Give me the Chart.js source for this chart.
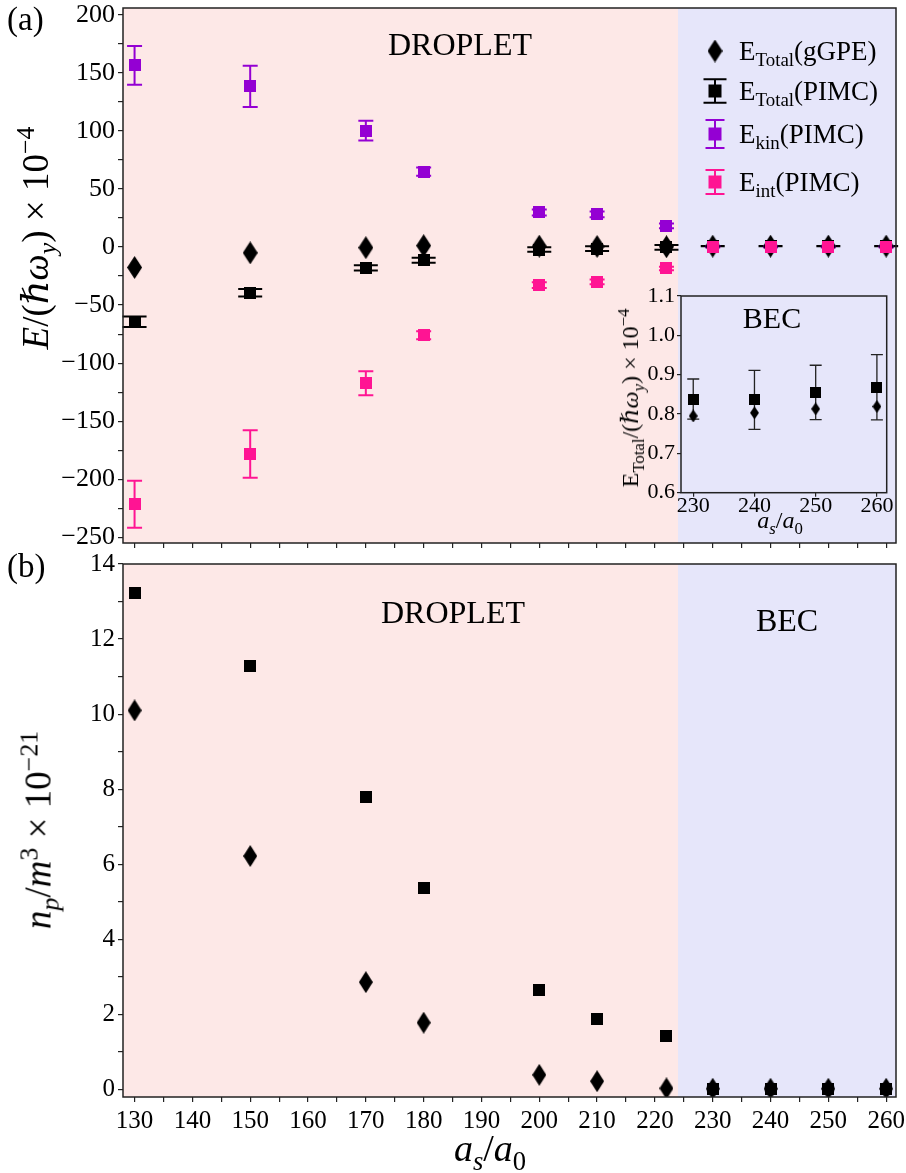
<!DOCTYPE html>
<html>
<head>
<meta charset="utf-8">
<script src="https://cdn.jsdelivr.net/npm/chart.js@4.4.1/dist/chart.umd.min.js"></script>
<style>
  body { margin: 0; background: #fff; }
  #fig { position: relative; width: 906px; height: 1173px; font-family: "Liberation Serif", "DejaVu Serif", serif; color: #000; }
  canvas { position: absolute; }
  .txt { position: absolute; white-space: nowrap; line-height: 1; z-index: 5; }
  .c { transform: translate(-50%, -50%); }
  .rot { transform: translate(-50%, -50%) rotate(-90deg); }
  .lg { transform: translateY(-50%); font-size: 27px; }
  sub, sup { font-size: 70%; line-height: 0; }
  i { font-style: italic; }
</style>
</head>
<body>
<div id="fig">
  <canvas id="panelA" width="906" height="555" style="left:0;top:0"></canvas>
  <canvas id="panelB" width="906" height="633" style="left:0;top:540px"></canvas>
  <canvas id="inset" width="300" height="265" style="left:600px;top:280px;z-index:2"></canvas>

  <div class="txt" style="left:7px;top:3px;font-size:33px">(a)</div>
  <div class="txt" style="left:7px;top:550px;font-size:33px">(b)</div>

  <div class="txt c" style="left:460px;top:44px;font-size:32px">DROPLET</div>
  <div class="txt c" style="left:453px;top:612px;font-size:32px">DROPLET</div>
  <div class="txt c" style="left:787px;top:620px;font-size:32px">BEC</div>
  <div class="txt c" style="left:772px;top:318px;font-size:30px">BEC</div>

  <div class="txt lg" style="left:739px;top:51px">E<sub>Total</sub>(gGPE)</div>
  <div class="txt lg" style="left:739px;top:91px">E<sub>Total</sub>(PIMC)</div>
  <div class="txt lg" style="left:739px;top:134px">E<sub>kin</sub>(PIMC)</div>
  <div class="txt lg" style="left:739px;top:182px">E<sub>int</sub>(PIMC)</div>

  <div class="txt rot" style="left:35px;top:238px;font-size:37px"><i>E</i>/(<i>ℏω</i><sub><i>y</i></sub>) × 10<sup>−4</sup></div>
  <div class="txt rot" style="left:38px;top:830px;font-size:37px"><i>n</i><sub><i>p</i></sub>/<i>m</i><sup>3</sup> × 10<sup>−21</sup></div>
  <div class="txt c" style="left:490px;top:1148px;font-size:38px"><i>a</i><sub><i>s</i></sub>/<i>a</i><sub>0</sub></div>
  <div class="txt rot" style="left:630px;top:398px;font-size:24px">E<sub>Total</sub>/(<i>ℏω</i><sub><i>y</i></sub>) × 10<sup>−4</sup></div>
  <div class="txt c" style="left:780px;top:520px;font-size:24px"><i>a</i><sub><i>s</i></sub>/<i>a</i><sub>0</sub></div>
</div>

<script>
// scattering length a_s / a_0 of each run
const scatLen = [130, 150, 170, 180, 200, 210, 222, 230, 240, 250, 260];
const phaseBoundary = 224;
const becStart = 7;

// energies, units of hbar*omega_y x 1e-4
const eTotalGGPE = [-17.6, -5.0, -0.5, 1.2, 0.8, 0.5, 0.3, 0.795, 0.803, 0.813, 0.819];
const eTotalPIMC = [-64.4, -39.4, -17.9, -11.3, -2.1, -1.3, -0.3, 0.838, 0.836, 0.855, 0.868];
const eTotalPIMCErr = [4.5, 3.3, 2.2, 2.2, 2.0, 2.0, 2.0, 0.051, 0.075, 0.069, 0.083];
const eKinPIMC = [156.6, 138.5, 100.4, 65.0, 29.8, 28.2, 18.3, 0.4, 0.4, 0.4, 0.4];
const eKinPIMCErr = [16.7, 17.8, 8.5, 3.5, 2.5, 2.5, 2.0, 0.5, 0.5, 0.5, 0.5];
const eIntPIMC = [-221.6, -178.3, -117.3, -76.0, -32.8, -30.0, -18.4, 0.4, 0.4, 0.4, 0.4];
const eIntPIMCErr = [20.3, 20.4, 10.3, 3.5, 2.5, 2.0, 1.5, 0.5, 0.5, 0.5, 0.5];

// peak density, n_p / m^3 x 1e-21
const densGGPE = [10.1, 6.22, 2.86, 1.78, 0.39, 0.22, 0.03, 0.02, 0.02, 0.02, 0.02];
const densPIMC = [13.23, 11.27, 7.8, 5.38, 2.65, 1.89, 1.42, 0.02, 0.02, 0.02, 0.02];

// tick values
const xMajor = [130, 140, 150, 160, 170, 180, 190, 200, 210, 220, 230, 240, 250, 260];
const xMinor = [135, 145, 155, 165, 175, 185, 195, 205, 215, 225, 235, 245, 255];
const eMajor = [-250, -200, -150, -100, -50, 0, 50, 100, 150, 200];
const eMinor = [-225, -175, -125, -75, -25, 25, 75, 125, 175];
const nMajor = [0, 2, 4, 6, 8, 10, 12, 14];
const nMinor = [1, 3, 5, 7, 9, 11, 13];
const insetXTicks = [230, 240, 250, 260];
const insetYTicks = [0.6, 0.7, 0.8, 0.9, 1.0, 1.1];

const DROPLET_BG = '#fde8e7';
const BEC_BG = '#e6e6fa';
const VIOLET = '#9400d3';
const PINK = '#ff1493';

Chart.defaults.font.family = '"Liberation Serif", "DejaVu Serif", serif';
Chart.defaults.font.size = 25;
Chart.defaults.color = '#000';
Chart.defaults.animation = false;

const minus = v => (v < 0 ? '\u2212' + Math.abs(v) : String(v));

function pts(ys, from = 0) {
    return scatLen.slice(from).map((x, i) => ({ x, y: ys[from + i] }));
}

function diamond(w, h, color) {
    const c = document.createElement('canvas');
    c.width = w; c.height = h;
    const g = c.getContext('2d');
    g.fillStyle = color;
    g.beginPath();
    g.moveTo(w / 2, 0); g.lineTo(w, h / 2); g.lineTo(w / 2, h); g.lineTo(0, h / 2);
    g.closePath();
    g.fill();
    return c;
}

function square(s, color) {
    const c = document.createElement('canvas');
    c.width = s; c.height = s;
    const g = c.getContext('2d');
    g.fillStyle = color;
    g.fillRect(0, 0, s, s);
    return c;
}

function setTicks(values) {
    return s => { s.ticks = values.slice().sort((a, b) => a - b).map(value => ({ value })); };
}

// fixed axis thickness; label overhang must not move the plot area
function fixSize(prop, size) {
    return s => {
        s[prop] = size;
        s.paddingTop = s.paddingBottom = s.paddingLeft = s.paddingRight = 0;
    };
}

function tickGrid(len) {
    return { drawOnChartArea: false, tickLength: len, color: '#222', lineWidth: 1.2 };
}

// vertical error bars with caps, drawn under the markers
const errorBars = {
    id: 'errorBars',
    beforeDatasetsDraw(chart) {
        const { ctx, scales: { x, y } } = chart;
        chart.data.datasets.forEach(ds => {
            if (!ds.errors) return;
            ctx.save();
            ctx.strokeStyle = ds.errColor;
            ctx.lineWidth = ds.errWidth;
            const c = ds.capWidth / 2;
            ds.data.forEach((p, i) => {
                const px = x.getPixelForValue(p.x);
                const hi = y.getPixelForValue(p.y + ds.errors[i]);
                const lo = y.getPixelForValue(p.y - ds.errors[i]);
                ctx.beginPath();
                ctx.moveTo(px, hi); ctx.lineTo(px, lo);
                ctx.moveTo(px - c, hi); ctx.lineTo(px + c, hi);
                ctx.moveTo(px - c, lo); ctx.lineTo(px + c, lo);
                ctx.stroke();
            });
            ctx.restore();
        });
    }
};

// droplet / BEC shading and the box around the plot area
const panelDeco = {
    id: 'panelDeco',
    beforeDraw(chart, args, opts) {
        if (!opts.shade) return;
        const { ctx, chartArea: a, scales: { x } } = chart;
        const xb = x.getPixelForValue(phaseBoundary);
        ctx.save();
        ctx.fillStyle = DROPLET_BG;
        ctx.fillRect(a.left, a.top, xb - a.left, a.bottom - a.top);
        ctx.fillStyle = BEC_BG;
        ctx.fillRect(xb, a.top, a.right - xb, a.bottom - a.top);
        ctx.restore();
    },
    afterDraw(chart, args, opts) {
        const { ctx, chartArea: a } = chart;
        ctx.save();
        ctx.strokeStyle = '#222';
        ctx.lineWidth = opts.frame || 1.5;
        ctx.strokeRect(a.left, a.top, a.right - a.left, a.bottom - a.top);
        ctx.restore();
    }
};

// legend symbols of panel (a); the labels are html next to them
const legendRows = [
    { y: 51, kind: 'diamond', color: '#000' },
    { y: 91, kind: 'err', color: '#000', half: 11.7, cap: 23 },
    { y: 134, kind: 'err', color: VIOLET, half: 14, cap: 19 },
    { y: 182, kind: 'err', color: PINK, half: 12, cap: 19 }
];
const legendX = 715;

const legendMarks = {
    id: 'legendMarks',
    afterDraw(chart) {
        const ctx = chart.ctx;
        ctx.save();
        legendRows.forEach(r => {
            if (r.kind === 'diamond') {
                ctx.drawImage(diamond(15, 23, r.color), legendX - 7.5, r.y - 11.5);
                return;
            }
            ctx.strokeStyle = r.color;
            ctx.lineWidth = 2;
            ctx.beginPath();
            ctx.moveTo(legendX, r.y - r.half); ctx.lineTo(legendX, r.y + r.half);
            ctx.moveTo(legendX - r.cap / 2, r.y - r.half); ctx.lineTo(legendX + r.cap / 2, r.y - r.half);
            ctx.moveTo(legendX - r.cap / 2, r.y + r.half); ctx.lineTo(legendX + r.cap / 2, r.y + r.half);
            ctx.stroke();
            ctx.fillStyle = r.color;
            ctx.fillRect(legendX - 6.5, r.y - 6.5, 13, 13);
        });
        ctx.restore();
    }
};

// (a) energies
new Chart(document.getElementById('panelA'), {
    type: 'scatter',
    data: {
        datasets: [
            { label: 'E_int (PIMC)', data: pts(eIntPIMC), pointStyle: square(12, PINK), pointRadius: 6, order: 0,
              errors: eIntPIMCErr, errColor: PINK, errWidth: 2, capWidth: 15 },
            { label: 'E_Total (PIMC)', data: pts(eTotalPIMC), pointStyle: square(12, '#000'), pointRadius: 6, order: 1,
              errors: eTotalPIMCErr, errColor: '#000', errWidth: 2, capWidth: 24 },
            { label: 'E_Total (gGPE)', data: pts(eTotalGGPE), pointStyle: diamond(15, 23, '#000'), pointRadius: 6, order: 2 },
            { label: 'E_kin (PIMC)', data: pts(eKinPIMC), pointStyle: square(12, VIOLET), pointRadius: 6, order: 3,
              errors: eKinPIMCErr, errColor: VIOLET, errWidth: 2, capWidth: 15 }
        ]
    },
    options: {
        responsive: false,
        layout: { padding: { top: 8, right: 10, left: 0, bottom: 0 } },
        plugins: { legend: { display: false }, tooltip: { enabled: false }, panelDeco: { shade: true } },
        scales: {
            x: {
                type: 'linear', min: 128, max: 261.7,
                afterBuildTicks: setTicks([...xMajor, ...xMinor]),
                afterFit: fixSize('height', 12),
                ticks: { display: false, autoSkip: false },
                grid: tickGrid(5),
                border: { display: false }
            },
            y: {
                min: -255, max: 206,
                afterBuildTicks: setTicks([...eMajor, ...eMinor]),
                afterFit: fixSize('width', 123),
                ticks: { autoSkip: false, padding: 3, font: { size: 26 },
                         callback: v => (eMajor.includes(v) ? minus(v) : '') },
                grid: tickGrid(5),
                border: { display: false }
            }
        }
    },
    plugins: [panelDeco, errorBars, legendMarks]
});

// (b) peak density
new Chart(document.getElementById('panelB'), {
    type: 'scatter',
    data: {
        datasets: [
            { label: 'n_p (PIMC)', data: pts(densPIMC), pointStyle: square(12, '#000'), pointRadius: 6 },
            { label: 'n_p (gGPE)', data: pts(densGGPE), pointStyle: diamond(14, 22, '#000'), pointRadius: 6 }
        ]
    },
    options: {
        responsive: false,
        layout: { padding: { top: 24, right: 10, left: 0, bottom: 0 } },
        plugins: { legend: { display: false }, tooltip: { enabled: false }, panelDeco: { shade: true } },
        scales: {
            x: {
                type: 'linear', min: 128, max: 261.7,
                afterBuildTicks: setTicks([...xMajor, ...xMinor]),
                afterFit: fixSize('height', 76),
                ticks: { autoSkip: false, maxRotation: 0, padding: 4,
                         callback: v => (xMajor.includes(v) ? String(v) : '') },
                grid: tickGrid(5),
                border: { display: false }
            },
            y: {
                min: -0.2, max: 14,
                afterBuildTicks: setTicks([...nMajor, ...nMinor]),
                afterFit: fixSize('width', 123),
                ticks: { autoSkip: false, padding: 3,
                         callback: v => (nMajor.includes(v) ? String(v) : '') },
                grid: tickGrid(5),
                border: { display: false }
            }
        }
    },
    plugins: [panelDeco, errorBars]
});

// inset: total energy in the BEC phase
new Chart(document.getElementById('inset'), {
    type: 'scatter',
    data: {
        datasets: [
            { label: 'E_Total (gGPE)', data: pts(eTotalGGPE, becStart), pointStyle: diamond(9, 13, '#000'), pointRadius: 5 },
            { label: 'E_Total (PIMC)', data: pts(eTotalPIMC, becStart), pointStyle: square(11, '#000'), pointRadius: 5,
              errors: eTotalPIMCErr.slice(becStart), errColor: '#222', errWidth: 1.3, capWidth: 12 }
        ]
    },
    options: {
        responsive: false,
        layout: { padding: { top: 16, right: 13.3, left: 0, bottom: 0 } },
        plugins: { legend: { display: false }, tooltip: { enabled: false }, panelDeco: { shade: false, frame: 1.5 } },
        scales: {
            x: {
                type: 'linear', min: 228, max: 261.6,
                afterBuildTicks: setTicks(insetXTicks),
                afterFit: fixSize('height', 52.3),
                ticks: { autoSkip: false, maxRotation: 0, padding: -1, font: { size: 22, lineHeight: 1 } },
                grid: tickGrid(4),
                border: { display: false }
            },
            y: {
                min: 0.6, max: 1.1,
                afterBuildTicks: setTicks(insetYTicks),
                afterFit: fixSize('width', 81),
                ticks: { autoSkip: false, padding: 2, font: { size: 22 }, callback: v => v.toFixed(1) },
                grid: tickGrid(4),
                border: { display: false }
            }
        }
    },
    plugins: [panelDeco, errorBars]
});
</script>
</body>
</html>
